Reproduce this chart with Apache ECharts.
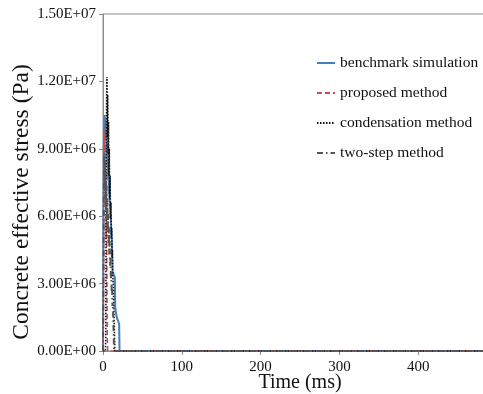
<!DOCTYPE html>
<html>
<head>
<meta charset="utf-8">
<script src="https://cdn.jsdelivr.net/npm/echarts@6/dist/echarts.min.js"></script>
<style>
  html, body { margin: 0; padding: 0; background: #fff; }
  #chart { width: 483px; height: 394px; }
</style>
</head>
<body>
<div id="chart"></div>
<script>
// time in ms (shared by every series), last point = end of record
const timeMs = [0, 0.5, 1, 1.5, 2, 2.5, 3, 3.5, 4, 4.5, 5, 5.5, 6, 6.5, 7, 7.5, 8, 8.5, 9, 9.5,
  10, 10.5, 11, 11.5, 12, 12.5, 13, 13.5, 14, 14.5, 15, 15.5, 16, 16.5, 17, 17.5, 18, 18.5, 19, 19.5,
  20, 20.5, 21, 21.5, 22, 500];

// stress in Pa
const benchmark = [0, 5.0e6, 9.0e6, 10.2e6, 10.5e6, 9.9e6, 10.3e6, 9.4e6, 9.8e6, 8.8e6,
  9.2e6, 8.2e6, 8.6e6, 7.6e6, 8.0e6, 7.0e6, 7.3e6, 6.4e6, 6.7e6, 5.9e6,
  6.1e6, 5.2e6, 5.4e6, 4.5e6, 3.5e6, 3.4e6, 3.5e6, 3.4e6, 3.4e6, 3.4e6,
  3.3e6, 2.0e6, 1.8e6, 1.7e6, 1.6e6, 1.5e6, 1.45e6, 1.4e6, 1.35e6, 1.3e6,
  1.25e6, 1.2e6, 0, 0, 0, 0];

const proposed = [0, 2.0e6, 6.0e6, 9.8e6, 7.5e6, 9.2e6, 6.5e6, 8.0e6, 5.0e6, 6.0e6,
  3.0e6, 0.5e6, 0, 0, 0, 0, 0, 0, 0, 0,
  0, 0, 0, 0, 0, 0, 0, 0, 0, 0,
  0, 0, 0, 0, 0, 0, 0, 0, 0, 0,
  0, 0, 0, 0, 0, 0];

const condensation = [0, 0, 0, 0, 0, 0, 0, 0.5e6, 7.0e6, 11.0e6,
  12.2e6, 9.5e6, 11.4e6, 8.8e6, 10.2e6, 7.8e6, 9.0e6, 6.8e6, 7.8e6, 5.9e6,
  6.6e6, 5.0e6, 5.5e6, 4.2e6, 4.5e6, 3.3e6, 3.0e6, 2.3e6, 1.5e6, 0.8e6,
  0, 0, 0, 0, 0, 0, 0, 0, 0, 0,
  0, 0, 0, 0, 0, 0];

const twoStep = [0, 3.0e6, 7.0e6, 8.8e6, 7.2e6, 8.5e6, 6.8e6, 8.0e6, 6.3e6, 7.4e6,
  5.8e6, 6.8e6, 5.3e6, 6.1e6, 4.8e6, 5.5e6, 4.3e6, 4.9e6, 3.8e6, 4.2e6,
  3.2e6, 3.5e6, 2.6e6, 2.8e6, 2.0e6, 2.1e6, 1.4e6, 0.8e6, 0, 0,
  0, 0, 0, 0, 0, 0, 0, 0, 0, 0,
  0, 0, 0, 0, 0, 0];

const seriesNames = ['benchmark simulation', 'proposed method', 'condensation method', 'two-step method'];

const serif = '"Liberation Serif", "Times New Roman", serif';

function pair(vals) {
  return timeMs.map((t, i) => [t, vals[i]]);
}

function sci(v) {
  if (v === 0) return '0.00E+00';
  const e = Math.floor(Math.log10(v) + 1e-9);
  const m = v / Math.pow(10, e);
  return m.toFixed(2) + 'E+' + String(e).padStart(2, '0');
}

const chart = echarts.init(document.getElementById('chart'));

chart.setOption({
  animation: false,
  grid: {
    left: 103,
    right: -14,
    top: 14,
    bottom: 43,
    show: true,
    borderColor: '#8c8c8c',
    borderWidth: 1,
    containLabel: false,
    outerBoundsMode: 'none'
  },
  legend: {
    orient: 'vertical',
    left: 311,
    top: 50,
    itemGap: 14,
    itemWidth: 18,
    itemHeight: 10,
    itemStyle: { opacity: 0 },
    textStyle: { fontFamily: serif, fontSize: 15.5, color: '#111' },
    data: seriesNames
  },
  graphic: [{
    type: 'text',
    x: 22,
    y: 202,
    rotation: Math.PI / 2,
    style: {
      text: 'Concrete effective stress (Pa)',
      font: '23.5px ' + serif,
      fill: '#111',
      align: 'center',
      verticalAlign: 'middle'
    }
  }],
  xAxis: {
    type: 'value',
    min: 0,
    max: 500,
    interval: 100,
    name: 'Time (ms)',
    nameLocation: 'middle',
    nameGap: 22,
    nameMoveOverlap: false,
    nameTextStyle: { fontFamily: serif, fontSize: 20, color: '#111' },
    axisLine: { show: true, onZero: false, lineStyle: { color: '#8c8c8c' } },
    axisTick: { show: true, length: 4, lineStyle: { color: '#8c8c8c' } },
    axisLabel: { fontFamily: serif, fontSize: 15, color: '#111', margin: 9 },
    splitLine: { show: false }
  },
  yAxis: {
    type: 'value',
    min: 0,
    max: 1.5e7,
    interval: 3e6,
    axisLine: { show: true, lineStyle: { color: '#8c8c8c' } },
    axisTick: { show: true, length: 4, lineStyle: { color: '#8c8c8c' } },
    axisLabel: { fontFamily: serif, fontSize: 15, color: '#111', margin: 7, formatter: sci },
    splitLine: { show: false }
  },
  series: [
    {
      name: seriesNames[0], type: 'line', symbol: 'none',
      data: pair(benchmark),
      lineStyle: { color: '#4a7ebb', width: 2 },
      itemStyle: { color: '#4a7ebb' }
    },
    {
      name: seriesNames[1], type: 'line', symbol: 'none',
      data: pair(proposed),
      lineStyle: { color: '#c0504d', width: 1.5, type: [5, 3] },
      itemStyle: { color: '#c0504d' }
    },
    {
      name: seriesNames[2], type: 'line', symbol: 'none',
      data: pair(condensation),
      lineStyle: { color: '#111', width: 1.6, type: [1.5, 1.5] },
      itemStyle: { color: '#111' }
    },
    {
      name: seriesNames[3], type: 'line', symbol: 'none',
      data: pair(twoStep),
      lineStyle: { color: '#555', width: 2, type: [6, 3, 1.5, 3] },
      itemStyle: { color: '#555' }
    }
  ]
});
</script>
</body>
</html>
